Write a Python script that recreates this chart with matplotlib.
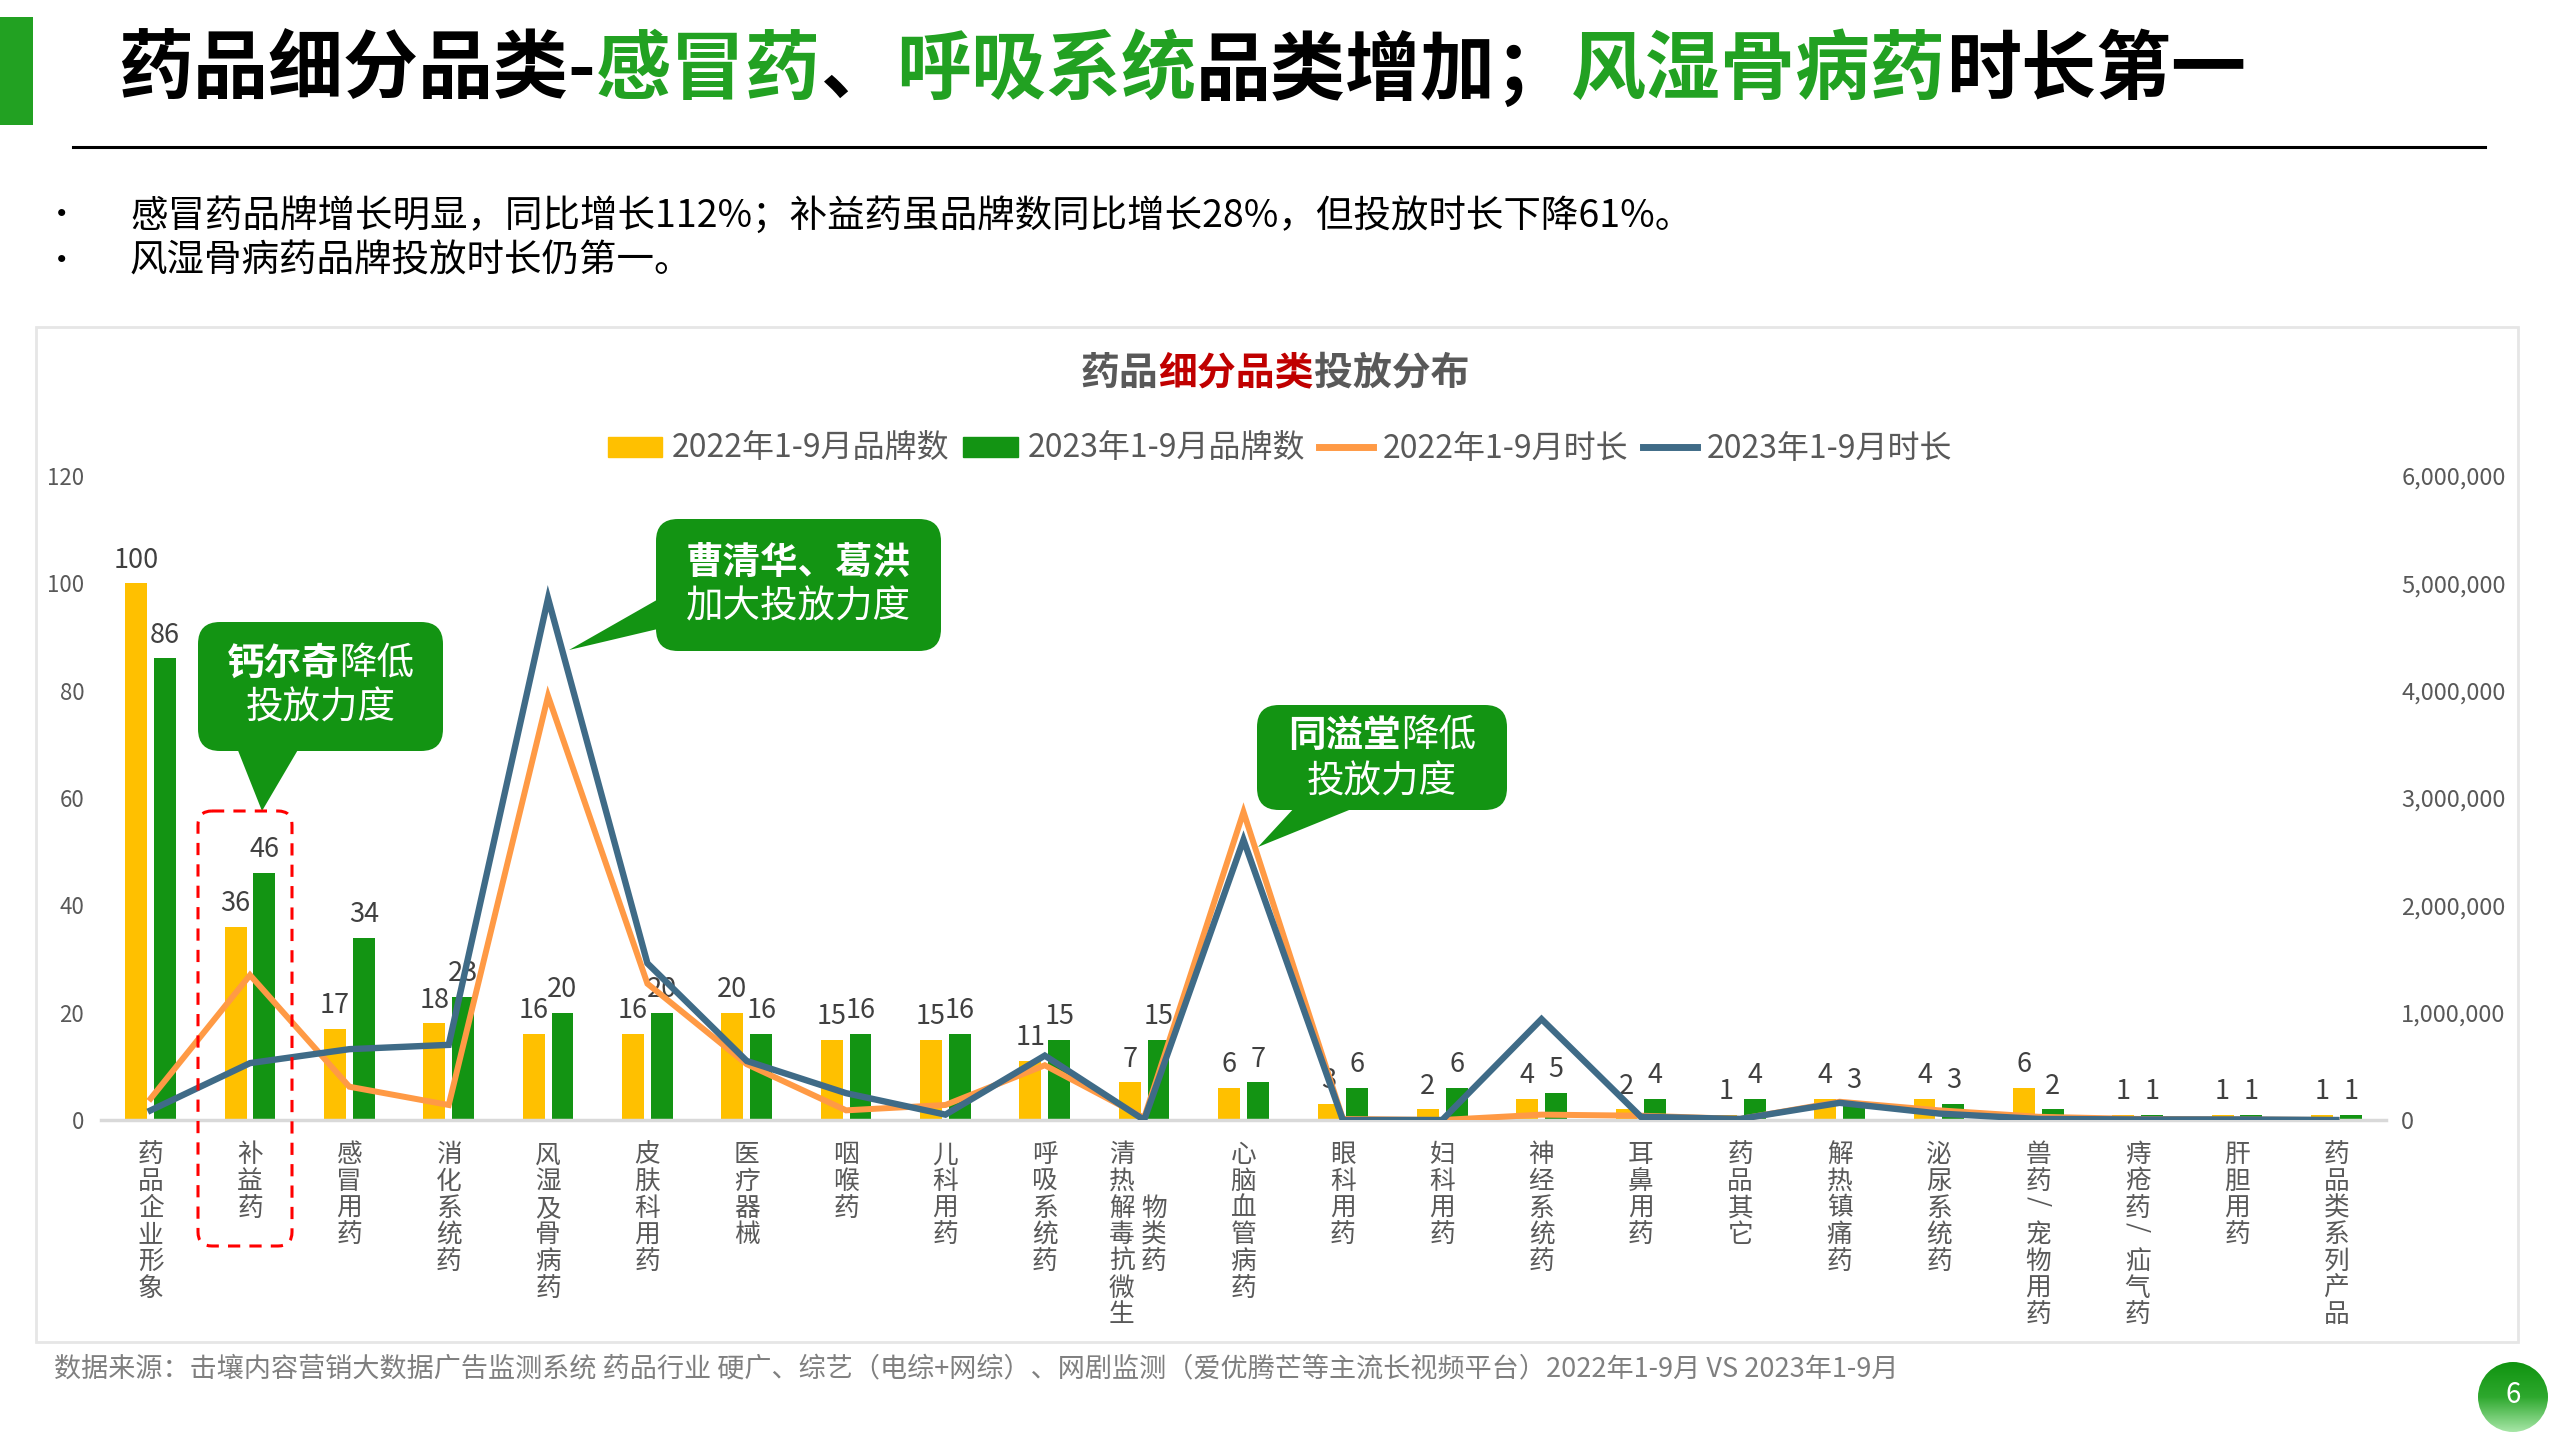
import matplotlib
matplotlib.use('Agg')
import matplotlib.pyplot as plt
from matplotlib.patches import FancyBboxPatch, Polygon, Rectangle, Circle, Patch
from matplotlib.lines import Line2D
from matplotlib.colors import LinearSegmentedColormap
from matplotlib.ticker import FuncFormatter
import numpy as np

plt.rcParams['font.family'] = ['Noto Sans CJK SC', 'DejaVu Sans']

# ---- data ----
categories = ['药品企业形象', '补益药', '感冒用药', '消化系统药', '风湿及骨病药', '皮肤科用药',
              '医疗器械', '咽喉药', '儿科用药', '呼吸系统药', '清热解毒抗微生物类药', '心脑血管病药',
              '眼科用药', '妇科用药', '神经系统药', '耳鼻用药', '药品其它', '解热镇痛药',
              '泌尿系统药', '兽药/宠物用药', '痔疮药/疝气药', '肝胆用药', '药品类系列产品']
brands_2022 = [100, 36, 17, 18, 16, 16, 20, 15, 15, 11, 7, 6, 3, 2, 4, 2, 1, 4, 4, 6, 1, 1, 1]
brands_2023 = [86, 46, 34, 23, 20, 20, 16, 16, 16, 15, 15, 7, 6, 6, 5, 4, 4, 3, 3, 2, 1, 1, 1]
duration_2022 = [200000, 1350000, 310000, 140000, 3950000, 1270000, 520000, 90000, 140000, 510000,
                 20000, 2870000, 10000, 0, 50000, 40000, 10000, 170000, 90000, 30000, 10000, 5000, 0]
duration_2023 = [90000, 530000, 660000, 700000, 4860000, 1460000, 550000, 250000, 50000, 600000,
                 0, 2610000, 0, 0, 940000, 30000, 10000, 160000, 60000, 10000, 5000, 5000, 0]
series_names = ['2022年1-9月品牌数', '2023年1-9月品牌数', '2022年1-9月时长', '2023年1-9月时长']

YELLOW = '#FFC000'
GREEN = '#139413'
ORANGE = '#FF9A45'
BLUE = '#3F6B87'
GRAY = '#595959'
TITLE_GREEN = '#22A122'

W, H = 2560, 1440
fig = plt.figure(figsize=(25.6, 14.4), dpi=100)

# ---- main chart ----
ax = fig.add_axes([101 / W, (H - 1120) / H, (2386 - 101) / W, (1120 - 476) / H])
x = np.arange(len(categories))
bw = 0.22
ax.bar(x - 0.145, brands_2022, bw, color=YELLOW, zorder=2)
ax.bar(x + 0.145, brands_2023, bw, color=GREEN, zorder=2)
for xs, vals in ((x - 0.145, brands_2022), (x + 0.145, brands_2023)):
    for xi, v in zip(xs, vals):
        ax.annotate(str(v), (xi, v), xytext=(0, 7), textcoords='offset points',
                    ha='center', va='bottom', fontsize=19.5, color='#404040')
ax.set_xlim(-0.5, len(categories) - 0.5)
ax.set_ylim(0, 120)
ax.set_yticks(range(0, 121, 20))
ax.set_xticks([])
for s in ('top', 'right', 'left'):
    ax.spines[s].set_visible(False)
ax.spines['bottom'].set_color('#D9D9D9')
ax.spines['bottom'].set_linewidth(2.5)
ax.tick_params(axis='y', length=0, labelsize=16, labelcolor=GRAY, pad=12)
ax.patch.set_alpha(0)

ax2 = ax.twinx()
ax2.plot(x, duration_2022, color=ORANGE, lw=4.3, solid_joinstyle='miter', zorder=3)
ax2.plot(x, duration_2023, color=BLUE, lw=4.6, solid_joinstyle='miter', zorder=4)
ax2.set_ylim(0, 6000000)
ax2.set_yticks(range(0, 6000001, 1000000))
ax2.yaxis.set_major_formatter(FuncFormatter(lambda v, p: '{:,.0f}'.format(v)))
for s in ax2.spines.values():
    s.set_visible(False)
ax2.tick_params(axis='y', length=0, labelsize=17, labelcolor=GRAY, pad=11)

# vertical category labels, one character per row
pitch = 19.2
top_off = 16
for i, name in enumerate(categories):
    if name == '清热解毒抗微生物类药':
        cols = [(name[:7], -16, 0), (name[7:], 7, 2)]
    else:
        cols = [(name, 0, 0)]
    for text, dx, row0 in cols:
        for k, ch in enumerate(text):
            ax.annotate(ch, (i, 0), xycoords=('data', 'axes fraction'),
                        xytext=(dx, -(top_off + (row0 + k) * pitch)), textcoords='offset points',
                        ha='center', va='top', fontsize=18.5, color=GRAY,
                        rotation=-90 if ch == '/' else 0, annotation_clip=False)

handles = [Patch(color=YELLOW), Patch(color=GREEN),
           Line2D([], [], color=ORANGE, lw=5), Line2D([], [], color=BLUE, lw=5)]
leg = fig.legend(handles, series_names, ncol=4, loc='center',
                 bbox_to_anchor=(1280 / W, 1 - 449 / H), frameon=False, fontsize=23,
                 handlelength=1.7, handleheight=0.6, handletextpad=0.3, columnspacing=0.45)
for t in leg.get_texts():
    t.set_color(GRAY)

# ---- decoration layer in pixel coordinates ----
deco = fig.add_axes([0, 0, 1, 1])
deco.set_xlim(0, W)
deco.set_ylim(H, 0)
deco.axis('off')
deco.set_zorder(10)
deco.patch.set_visible(False)

renderer = fig.canvas.get_renderer()


def rich_text(x0, y0, pieces, size, ha='left'):
    objs = []
    widths = []
    for s, color, weight in pieces:
        t = deco.text(0, y0, s, fontsize=size, color=color, fontweight=weight, va='center', ha='left')
        objs.append(t)
        widths.append(t.get_window_extent(renderer).width)
    start = x0 - sum(widths) / 2 if ha == 'center' else x0
    for t, w in zip(objs, widths):
        t.set_x(start)
        start += w


# page title
deco.add_patch(Rectangle((0, 17), 33, 108, color=TITLE_GREEN, lw=0))
rich_text(118, 71, [('药品细分品类-', 'black', 'bold'), ('感冒药', TITLE_GREEN, 'bold'),
                    ('、', 'black', 'bold'), ('呼吸系统', TITLE_GREEN, 'bold'),
                    ('品类增加；', 'black', 'bold'), ('风湿骨病药', TITLE_GREEN, 'bold'),
                    ('时长第一', 'black', 'bold')], 54)
deco.plot([73, 2485], [147, 147], color='black', lw=2.2)

# bullets
for yy, txt in ((216, '感冒药品牌增长明显，同比增长112%；补益药虽品牌数同比增长28%，但投放时长下降61%。'),
                (261, '风湿骨病药品牌投放时长仍第一。')):
    deco.text(62, yy, '•', fontsize=24, color='black', va='center', ha='center')
    deco.text(130, yy, txt, fontsize=27, color='black', va='center')

# chart frame
deco.add_patch(Rectangle((36, 327), 2482, 1015, fill=False, edgecolor='#E6E6E6', lw=2))

# chart title
rich_text(1275, 373, [('药品', GRAY, 'bold'), ('细分品类', '#C00000', 'bold'), ('投放分布', GRAY, 'bold')],
          28, ha='center')


def callout(x0, y0, w, h, tri, lines):
    deco.add_patch(FancyBboxPatch((x0, y0), w, h, boxstyle='round,pad=0,rounding_size=22',
                                  facecolor=GREEN, edgecolor='none'))
    deco.add_patch(Polygon(tri, closed=True, facecolor=GREEN, edgecolor='none'))
    for ly, pieces in lines:
        rich_text(x0 + w / 2, ly, pieces, 27, ha='center')


callout(198, 622, 245, 129, [(237, 748), (299, 748), (262, 811)],
        [(663, [('钙尔奇', 'white', 'bold'), ('降低', 'white', 'normal')]),
         (708, [('投放力度', 'white', 'normal')])])
callout(656, 519, 285, 132, [(662, 597), (662, 628), (569, 650)],
        [(562, [('曹清华、葛洪', 'white', 'bold')]),
         (607, [('加大投放力度', 'white', 'normal')])])
callout(1257, 705, 250, 105, [(1296, 806), (1359, 806), (1258, 847)],
        [(735, [('同溢堂', 'white', 'bold'), ('降低', 'white', 'normal')]),
         (782, [('投放力度', 'white', 'normal')])])

# red dashed highlight around 补益药
deco.add_patch(FancyBboxPatch((198, 811), 94, 435, boxstyle='round,pad=0,rounding_size=14',
                              fill=False, edgecolor='#FF0000', lw=2.2, linestyle=(0, (4, 3))))

# source note
deco.text(54, 1369, '数据来源：击壤内容营销大数据广告监测系统 药品行业 硬广、综艺（电综+网综）、网剧监测（爱优腾芒等主流长视频平台）2022年1-9月 VS 2023年1-9月',
          fontsize=19.5, color='#7F7F7F', va='center')

# page number badge
circ = Circle((2513, 1397), 35, transform=deco.transData, facecolor='none', edgecolor='none')
deco.add_patch(circ)
grad = np.linspace(0, 1, 100).reshape(-1, 1)
cmap = LinearSegmentedColormap.from_list('badge', ['#109410', '#2EA82E', '#A6E6A6'])
img = deco.imshow(grad, extent=(2478, 2548, 1432, 1362), cmap=cmap, aspect='auto', origin='upper')
img.set_clip_path(circ)
deco.text(2513, 1395, '6', fontsize=20, color='white', ha='center', va='center')
deco.set_xlim(0, W)
deco.set_ylim(H, 0)

fig.savefig('out.png', dpi=100)
